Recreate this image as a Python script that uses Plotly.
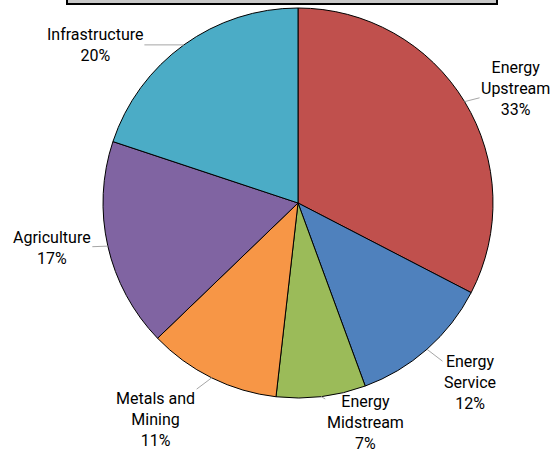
import math
import plotly.graph_objects as go

labels = ["Energy<br>Upstream", "Energy<br>Service", "Energy<br>Midstream",
          "Metals and<br>Mining", "Agriculture", "Infrastructure"]
values = [32.6, 11.8, 7.4, 11.0, 17.3, 19.9]
pct_text = ["33%", "12%", "7%", "11%", "17%", "20%"]
colors = ["#C0504D", "#4F81BD", "#9BBB59", "#F79646", "#8064A2", "#4BACC6"]

# label offsets (pixels) from the slice's outer edge midpoint to the label centre
label_dx = [51, 43, 44, -56, -56, -89]
label_dy = [-13, 33, 26, 42, 2, 0]

W, H = 554, 453
cx, cy, r = 298, 203, 195
FONT = "'Liberation Sans Narrow', 'Arial Narrow', Roboto, sans-serif"

fig = go.Figure(go.Pie(
    labels=[l.replace("<br>", " ") for l in labels],
    values=values,
    sort=False,
    direction="clockwise",
    rotation=0,
    marker=dict(colors=colors, line=dict(color="#000000", width=1)),
    textinfo="none",
    automargin=False,
    domain=dict(x=[(cx - r) / W, (cx + r) / W], y=[(H - cy - r) / H, (H - cy + r) / H]),
    hoverinfo="label+percent",
))

total = sum(values)
cum = 0.0
for lab, v, pt, dx, dy in zip(labels, values, pct_text, label_dx, label_dy):
    mid = (cum + v / 2) / total * 2 * math.pi
    cum += v
    ex = cx + r * math.sin(mid)
    ey = cy - r * math.cos(mid)
    fig.add_annotation(
        x=ex / W, y=1 - ey / H, xref="paper", yref="paper",
        text=f"{lab}<br>{pt}",
        showarrow=True, arrowhead=0, arrowwidth=1, arrowcolor="#A6A6A6",
        ax=dx, ay=dy, standoff=0,
        font=dict(family=FONT, size=16, color="#000000"),
        align="center",
    )

fig.add_shape(type="rect", xref="paper", yref="paper",
              x0=67 / W, x1=497 / W, y0=(H - 4) / H, y1=1.05,
              fillcolor="#C8C8C8", line=dict(color="#000000", width=2))

fig.update_layout(
    width=W, height=H,
    margin=dict(l=0, r=0, t=0, b=0),
    showlegend=False,
    paper_bgcolor="#FFFFFF",
    plot_bgcolor="#FFFFFF",
)

fig.write_html("out.html")
